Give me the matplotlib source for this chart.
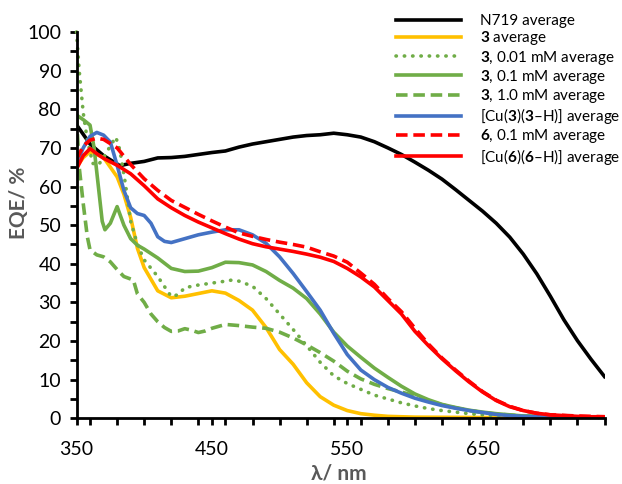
import matplotlib
matplotlib.use("Agg")
import matplotlib.pyplot as plt
from matplotlib.ticker import MultipleLocator

plt.rcParams['font.family'] = ['Lato', 'DejaVu Sans']
plt.rcParams['mathtext.fontset'] = 'custom'
plt.rcParams['mathtext.rm'] = 'Lato'
plt.rcParams['mathtext.bf'] = 'Lato:bold'

# ---- data ----
n719_x = [350, 360, 370, 382, 390, 400, 410, 420, 430, 440, 450, 460, 470, 480, 490, 500,
          510, 520, 530, 540, 550, 560, 570, 580, 590, 600, 610, 620, 630, 640, 650, 660,
          670, 680, 690, 700, 710, 720, 730, 740]
n719_y = [76, 71, 68, 65.4, 66, 66.5, 67.4, 67.5, 67.8, 68.3, 68.8, 69.2, 70.2, 71, 71.6, 72.2,
          72.8, 73.2, 73.4, 73.8, 73.4, 72.8, 71.6, 70, 68.3, 66.3, 64.2, 61.9, 59.2, 56.4, 53.6,
          50.5, 46.9, 42.5, 37.4, 31.6, 25.5, 20.1, 15.3, 10.8]

c3_x = [350, 355, 360, 370, 380, 385, 390, 395, 400, 410, 420, 430, 440, 450, 460, 470, 480,
        490, 500, 510, 520, 530, 540, 550, 560, 570, 580, 600, 650, 740]
c3_y = [65, 67.5, 69, 67.5, 62.5, 58, 52, 44, 39, 33, 31.2, 31.6, 32.3, 33, 32.4, 30.5, 28,
        23.5, 17.8, 14, 9.2, 5.6, 3.4, 2, 1.2, 0.8, 0.5, 0.3, 0.2, 0.2]

c3_001_x = [350, 352, 355, 358, 362, 366, 370, 375, 379, 382, 386, 390, 395, 400, 410, 420,
            425, 430, 440, 450, 460, 465, 470, 480, 490, 500, 510, 520, 530, 540, 550, 560,
            570, 580, 590, 600, 610, 620, 630, 640, 650, 660, 680, 700, 740]
c3_001_y = [100, 90, 79, 72, 66, 65.5, 67.5, 70.5, 72.8, 69.5, 61, 51, 45, 41, 36.7, 31.5,
            32, 33.8, 34.5, 35, 35.5, 35.8, 35.5, 34.2, 31, 27, 23, 18.8, 14.5, 11, 9, 7.5,
            6, 5, 4, 3.2, 2.5, 2, 1.6, 1.2, 0.9, 0.7, 0.4, 0.3, 0.2]

c3_01_x = [350, 355, 360, 363, 366, 369, 371, 375, 380, 385, 390, 395, 400, 410, 420, 430,
           440, 450, 460, 470, 480, 490, 500, 510, 520, 530, 540, 550, 560, 570, 580, 590,
           600, 610, 620, 630, 640, 650, 660, 670, 680, 700, 740]
c3_01_y = [78.5, 77.3, 75.9, 70, 60.5, 51, 48.8, 50.5, 54.8, 50, 46.5, 44.8, 43.8, 41.5, 38.8,
           38, 38.1, 39, 40.4, 40.3, 39.7, 38, 35.7, 33.7, 31, 27, 22.3, 18.7, 15.8, 13, 10.6,
           8.3, 6.3, 4.8, 3.6, 2.8, 2.1, 1.6, 1.2, 0.9, 0.6, 0.4, 0.3]

c3_10_x = [350, 352, 355, 358, 360, 365, 370, 375, 380, 385, 392, 395, 400, 405, 410, 415,
           420, 425, 430, 435, 440, 445, 450, 460, 470, 480, 490, 500, 510, 520, 530, 540,
           550, 560, 570, 580, 590, 600, 610, 620, 630, 640, 650, 660, 680, 700, 740]
c3_10_y = [78, 65, 55.5, 47, 43.6, 42.3, 41.8, 40.5, 38.5, 36.7, 35.8, 32.2, 30, 27, 25, 23.5,
           22.5, 22.6, 23.2, 22.8, 22.2, 22.6, 23.3, 24.3, 24, 23.6, 23.3, 22.3, 20.8, 19, 17,
           14.8, 12.2, 10.2, 8.8, 7.7, 6.8, 5.8, 4.6, 3.5, 2.7, 2, 1.5, 1.1, 0.6, 0.4, 0.3]

cu3_x = [350, 355, 360, 365, 370, 375, 380, 385, 390, 395, 400, 405, 410, 415, 420, 430, 440,
         450, 460, 470, 480, 490, 500, 510, 520, 530, 540, 550, 560, 570, 580, 590, 600, 610,
         620, 630, 640, 650, 660, 670, 680, 700, 740]
cu3_y = [66, 70, 73, 74, 73.3, 71.5, 65.5, 59, 54.5, 53, 52.5, 50.5, 47, 45.8, 45.5, 46.5, 47.5,
         48.2, 48.8, 48.8, 47.5, 45.3, 41.8, 37.5, 32.8, 28, 22, 16.5, 12.5, 10, 8, 6.5, 5.2,
         4.2, 3.3, 2.6, 2, 1.5, 1.0, 0.7, 0.5, 0.3, 0.2]

c6_x = [350, 355, 360, 365, 370, 380, 390, 400, 410, 420, 430, 440, 450, 460, 470, 480, 490,
        500, 510, 520, 530, 540, 550, 560, 570, 580, 590, 600, 610, 620, 630, 640, 650, 660,
        670, 680, 690, 700, 720, 740]
c6_y = [67, 70.5, 72, 72.5, 72.2, 70, 65.7, 62, 59, 56.4, 54.6, 52.8, 51.1, 49.5, 48, 47.1,
        46.3, 45.6, 45, 44.3, 43.1, 42, 40.4, 37.6, 34.7, 31, 27.6, 23.3, 19.2, 15.6, 12.5, 9.6,
        6.9, 4.7, 3.1, 2.0, 1.3, 0.9, 0.6, 0.4]

cu6_x = [350, 355, 360, 365, 370, 380, 390, 400, 410, 420, 430, 440, 450, 460, 470, 480, 490,
         500, 510, 520, 530, 540, 550, 560, 570, 580, 590, 600, 610, 620, 630, 640, 650, 660,
         670, 680, 690, 700, 710, 720, 730, 740]
cu6_y = [64.5, 68, 69.8, 68.5, 67.3, 65.5, 63.3, 60.2, 56.8, 54.5, 52.5, 50.8, 49.3, 47.8,
         46.4, 45.2, 44.4, 43.8, 43.2, 42.5, 41.7, 40.6, 38.8, 36.6, 34, 30.5, 27, 22.5, 18.8,
         15.4, 12.3, 9.4, 6.8, 4.6, 3.0, 2.0, 1.3, 0.9, 0.7, 0.5, 0.4, 0.4]

labels = ["N719 average",
          r"$\mathbf{3}$ average",
          r"$\mathbf{3}$, 0.01 mM average",
          r"$\mathbf{3}$, 0.1 mM average",
          r"$\mathbf{3}$, 1.0 mM average",
          r"[Cu($\mathbf{3}$)($\mathbf{3}$–H)] average",
          r"$\mathbf{6}$, 0.1 mM average",
          r"[Cu($\mathbf{6}$)($\mathbf{6}$–H)] average"]

x_ticks = [350, 450, 550, 650]

# ---- figure ----
W, H = 622, 484
fig = plt.figure(figsize=(W / 100, H / 100), dpi=100)
ax = fig.add_axes([76.5 / W, 1 - 418.3 / H, (604.5 - 76.5) / W, (418.3 - 32) / H])

lw = 2.6
green = '#70AD47'
ax.plot(n719_x, n719_y, color='black', lw=lw, label=labels[0])
ax.plot(c3_x, c3_y, color='#FFC000', lw=lw, label=labels[1])
ax.plot(c3_001_x, c3_001_y, color=green, lw=lw, ls=(0, (0.1, 2.2)),
        dash_capstyle='round', label=labels[2], clip_on=False)
ax.plot(c3_01_x, c3_01_y, color=green, lw=lw, label=labels[3])
ax.plot(c3_10_x, c3_10_y, color=green, lw=lw, ls=(0, (3.2, 1.6)), label=labels[4])
ax.plot(cu3_x, cu3_y, color='#4472C4', lw=lw, label=labels[5])
ax.plot(c6_x, c6_y, color='#FF0000', lw=lw, ls=(0, (3.2, 1.6)), label=labels[6])
ax.plot(cu6_x, cu6_y, color='#FF0000', lw=lw, label=labels[7])

ax.set_xlim(350, 740)
ax.set_ylim(0, 100)
ax.set_xticks(x_ticks)
ax.xaxis.set_minor_locator(MultipleLocator(20))
ax.yaxis.set_major_locator(MultipleLocator(10))
ax.yaxis.set_minor_locator(MultipleLocator(5))

for s in ['top', 'right']:
    ax.spines[s].set_visible(False)
for s in ['left', 'bottom']:
    ax.spines[s].set_linewidth(2.0)
    ax.spines[s].set_color('black')

ax.tick_params(which='both', direction='out', length=5, width=2.0, color='black')
ax.tick_params(axis='both', which='major', labelsize=14)
ax.tick_params(axis='y', which='major', pad=6)
ax.tick_params(axis='x', which='major', pad=11)

fig.text(18.5 / W, 1 - 203 / H, "EQE/ %", rotation=90, ha='center', va='center',
         fontsize=15, fontweight='bold', color='#595959')
fig.text(339 / W, 1 - 473 / H, "λ/ nm", ha='center', va='center',
         fontsize=15, fontweight='bold', color='#595959')

leg = ax.legend(loc='upper right', bbox_to_anchor=(1.0 + 5 / W, 1 - 8 / H),
                bbox_transform=fig.transFigure,
                frameon=False, fontsize=11, handlelength=4.2, handletextpad=1.3,
                labelspacing=0.08, borderaxespad=0.0)

fig.savefig("out.png", dpi=100)
